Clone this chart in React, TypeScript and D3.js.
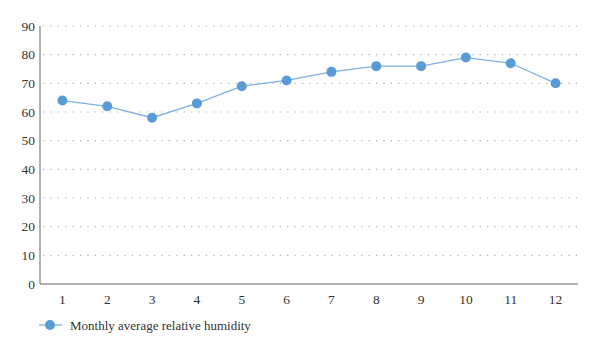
import React from "react";
import * as d3 from "d3";

const months = ["1", "2", "3", "4", "5", "6", "7", "8", "9", "10", "11", "12"];
const humidity = [64, 62, 58, 63, 69, 71, 74, 76, 76, 79, 77, 70];
const yTicks = [0, 10, 20, 30, 40, 50, 60, 70, 80, 90];
const seriesName = "Monthly average relative humidity";

export default function App() {
  const W = 600, H = 353;
  const left = 40, right = 578, top = 26, bottom = 284;
  const x = d3.scaleBand<string>().domain(months).range([left, right]);
  const y = d3.scaleLinear().domain([0, 90]).range([bottom, top]);
  const line = d3
    .line<number>()
    .x((_, i) => (x(months[i]) as number) + x.bandwidth() / 2)
    .y((d) => y(d));
  const font = '"Times New Roman", "Liberation Serif", "DejaVu Serif", "Noto Serif", Times, serif';
  const color = "#5b9bd5";
  return (
    <svg width={W} height={H} style={{ position: "absolute", left: 0, top: 0, fontFamily: font }}>
      {yTicks.map((t) => (
        <g key={t}>
          {t > 0 && (
            <line x1={left + 3} x2={583} y1={y(t)} y2={y(t)} stroke="#b0b0b0" strokeWidth={1.2} strokeDasharray="1.2 6.2" />
          )}
          <text x={35} y={y(t)} dy="0.35em" textAnchor="end" fontSize={13.5} fill="#333" fontFamily={font}>
            {t}
          </text>
        </g>
      ))}
      <line x1={left} x2={left} y1={top} y2={bottom} stroke="#666" strokeWidth={1} />
      <line x1={left} x2={right} y1={bottom} y2={bottom} stroke="#666" strokeWidth={1} />
      {months.map((m) => (
        <text key={m} x={(x(m) as number) + x.bandwidth() / 2} y={bottom + 15} dy="0.35em" textAnchor="middle" fontSize={13.5} fill="#333" fontFamily={font}>
          {m}
        </text>
      ))}
      <path d={line(humidity) || ""} fill="none" stroke="#7eb0e3" strokeWidth={1.3} />
      {humidity.map((v, i) => (
        <circle key={i} cx={(x(months[i]) as number) + x.bandwidth() / 2} cy={y(v)} r={5} fill={color} />
      ))}
      <line x1={39} x2={62} y1={325} y2={325} stroke="#7eb0e3" strokeWidth={1.3} />
      <circle cx={50} cy={325} r={5} fill={color} />
      <text x={70} y={325} dy="0.35em" fontSize={13} fill="#333" fontFamily={font}>
        {seriesName}
      </text>
    </svg>
  );
}
